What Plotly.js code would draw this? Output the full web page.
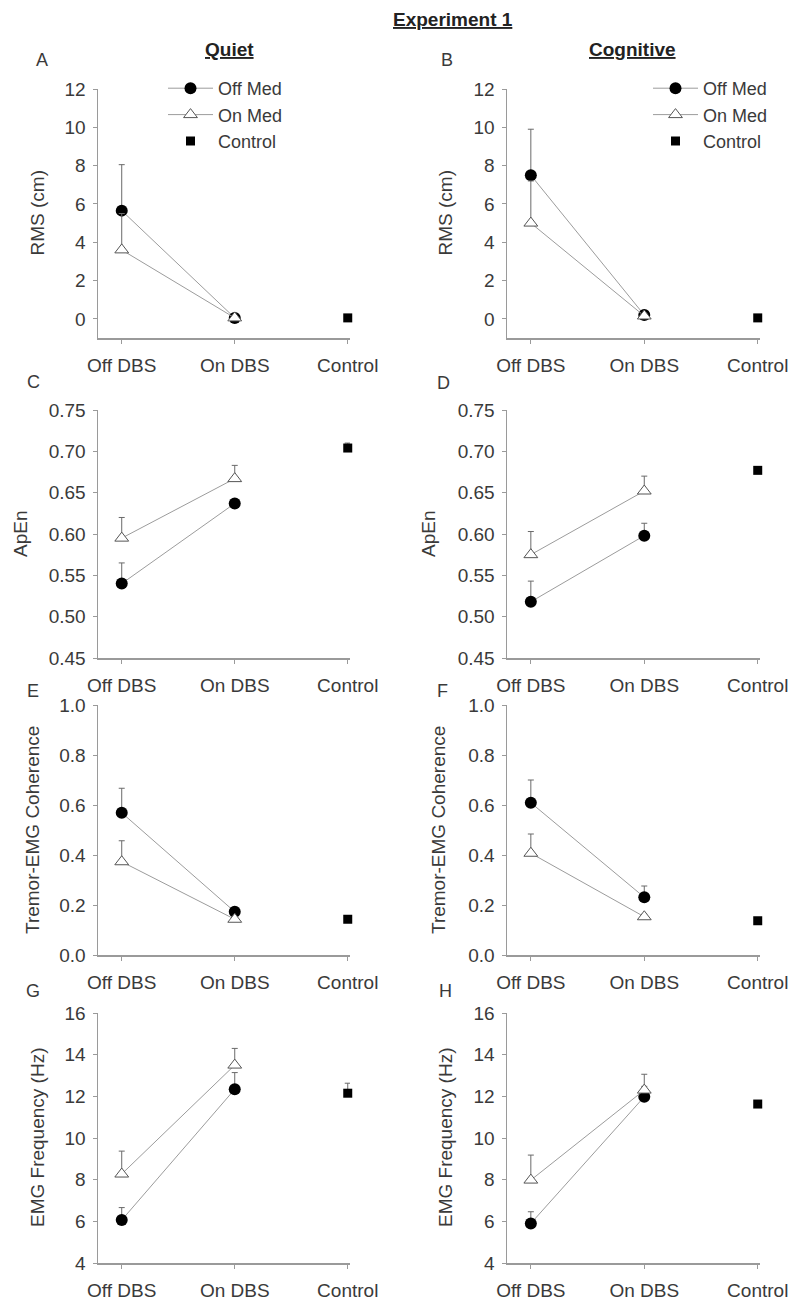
<!DOCTYPE html>
<html>
<head>
<meta charset="utf-8">
<script src="https://cdn.plot.ly/plotly-3.0.1.min.js"></script>
<style>
  html, body { margin: 0; padding: 0; background: #fff; }
  #chart { width: 800px; height: 1313px; }
</style>
</head>
<body>
<div id="chart"></div>
<script>
// categories on the x axis and the three groups
const categories = ["Off DBS", "On DBS", "Control"];
const groupNames = ["Off Med", "On Med", "Control"];

// A - RMS (cm), quiet
const rmsQuietOffMed = [5.65, 0.05];
const rmsQuietOffMedSE = [2.4, 0.1];
const rmsQuietOnMed = [3.6, 0.05];
const rmsQuietOnMedSE = [1.9, 0.1];
const rmsQuietControl = [0.05];
const rmsQuietControlSE = [0.05];

// B - RMS (cm), cognitive
const rmsCogOffMed = [7.5, 0.2];
const rmsCogOffMedSE = [2.4, 0.1];
const rmsCogOnMed = [5.0, 0.15];
const rmsCogOnMedSE = [2.2, 0.1];
const rmsCogControl = [0.05];
const rmsCogControlSE = [0.05];

// C - ApEn, quiet
const apenQuietOffMed = [0.540, 0.637];
const apenQuietOffMedSE = [0.025, 0.004];
const apenQuietOnMed = [0.595, 0.667];
const apenQuietOnMedSE = [0.025, 0.016];
const apenQuietControl = [0.704];
const apenQuietControlSE = [0.006];

// D - ApEn, cognitive
const apenCogOffMed = [0.518, 0.598];
const apenCogOffMedSE = [0.025, 0.015];
const apenCogOnMed = [0.575, 0.652];
const apenCogOnMedSE = [0.028, 0.018];
const apenCogControl = [0.677];
const apenCogControlSE = [0.003];

// E - tremor-EMG coherence, quiet
const cohQuietOffMed = [0.569, 0.173];
const cohQuietOffMedSE = [0.098, 0.01];
const cohQuietOnMed = [0.373, 0.143];
const cohQuietOnMedSE = [0.084, 0.01];
const cohQuietControl = [0.143];
const cohQuietControlSE = [0.01];

// F - tremor-EMG coherence, cognitive
const cohCogOffMed = [0.609, 0.231];
const cohCogOffMedSE = [0.091, 0.045];
const cohCogOnMed = [0.407, 0.153];
const cohCogOnMedSE = [0.077, 0.01];
const cohCogControl = [0.137];
const cohCogControlSE = [0.01];

// G - EMG frequency (Hz), quiet
const emgQuietOffMed = [6.06, 12.34];
const emgQuietOffMedSE = [0.6, 0.8];
const emgQuietOnMed = [8.27, 13.5];
const emgQuietOnMedSE = [1.1, 0.8];
const emgQuietControl = [12.15];
const emgQuietControlSE = [0.48];

// H - EMG frequency (Hz), cognitive
const emgCogOffMed = [5.9, 11.98];
const emgCogOffMedSE = [0.56, 0.5];
const emgCogOnMed = [7.98, 12.3];
const emgCogOnMedSE = [1.2, 0.76];
const emgCogControl = [11.63];
const emgCogControlSE = [0.15];

const W = 800, H = 1313;
const FONT = "Arial, 'Liberation Sans', sans-serif";
const TXT = "#3a3a3a";
const AXIS = "#9a9a9a";

const px = (x) => x / W;
const py = (y) => 1 - y / H;

// plot areas in pixels
const colX = [[98, 350], [507, 760]];
const rowY = [[89, 338], [410, 658], [705, 955], [1013, 1263]];

const rows = [
    { title: "RMS (cm)", range: [-1, 12], dtick: 2, fmt: "d", titleX: [37, 445] },
    { title: "ApEn", range: [0.45, 0.75], dtick: 0.05, fmt: ".2f", titleX: [20, 428] },
    { title: "Tremor-EMG Coherence", range: [0, 1], dtick: 0.2, fmt: ".1f", titleX: [32, 438] },
    { title: "EMG Frequency (Hz)", range: [4, 16], dtick: 2, fmt: "d", titleX: [37, 445] },
];

const panels = [
    [rmsQuietOffMed, rmsQuietOffMedSE, rmsQuietOnMed, rmsQuietOnMedSE, rmsQuietControl, rmsQuietControlSE],
    [rmsCogOffMed, rmsCogOffMedSE, rmsCogOnMed, rmsCogOnMedSE, rmsCogControl, rmsCogControlSE],
    [apenQuietOffMed, apenQuietOffMedSE, apenQuietOnMed, apenQuietOnMedSE, apenQuietControl, apenQuietControlSE],
    [apenCogOffMed, apenCogOffMedSE, apenCogOnMed, apenCogOnMedSE, apenCogControl, apenCogControlSE],
    [cohQuietOffMed, cohQuietOffMedSE, cohQuietOnMed, cohQuietOnMedSE, cohQuietControl, cohQuietControlSE],
    [cohCogOffMed, cohCogOffMedSE, cohCogOnMed, cohCogOnMedSE, cohCogControl, cohCogControlSE],
    [emgQuietOffMed, emgQuietOffMedSE, emgQuietOnMed, emgQuietOnMedSE, emgQuietControl, emgQuietControlSE],
    [emgCogOffMed, emgCogOffMedSE, emgCogOnMed, emgCogOnMedSE, emgCogControl, emgCogControlSE],
];
const letters = ["A", "B", "C", "D", "E", "F", "G", "H"];
const letterPos = [[42, 60], [447, 60], [33, 382], [443, 383], [33, 691], [442, 691], [33, 991], [445, 991]];

function upErr(se) {
    return {
        type: "data", symmetric: false, array: se, arrayminus: se.map(() => 0),
        color: "#6a6a6a", thickness: 1, width: 3,
    };
}

const data = [];
const layout = {
    width: W, height: H,
    margin: { l: 0, r: 0, t: 0, b: 0 },
    paper_bgcolor: "#fff", plot_bgcolor: "rgba(0,0,0,0)",
    font: { family: FONT, color: TXT, size: 19 },
    showlegend: true,
    annotations: [],
};

panels.forEach((p, i) => {
    const r = Math.floor(i / 2), c = i % 2;
    const n = i + 1;
    const xa = "xaxis" + (n === 1 ? "" : n), ya = "yaxis" + (n === 1 ? "" : n);
    const xr = "x" + (n === 1 ? "" : n), yr = "y" + (n === 1 ? "" : n);
    const row = rows[r];
    const leg = r === 0 ? (c === 0 ? "legend" : "legend2") : null;

    const [offMed, offSE, onMed, onSE, ctrl, ctrlSE] = p;
    data.push({
        type: "scatter", mode: "lines+markers", name: groupNames[0],
        x: categories.slice(0, 2), y: offMed, error_y: upErr(offSE),
        xaxis: xr, yaxis: yr, cliponaxis: false,
        line: { color: "#9c9c9c", width: 1 },
        marker: { symbol: "circle", size: 12, color: "#000" },
        showlegend: !!leg, legend: leg || "legend",
    });
    data.push({
        type: "scatter", mode: "lines+markers", name: groupNames[1],
        x: categories.slice(0, 2), y: onMed, error_y: upErr(onSE),
        xaxis: xr, yaxis: yr, cliponaxis: false,
        line: { color: "#9c9c9c", width: 1 },
        marker: { symbol: "triangle-up", size: 12, color: "#fff", line: { color: "#555", width: 1 } },
        showlegend: !!leg, legend: leg || "legend",
    });
    data.push({
        type: "scatter", mode: "markers", name: groupNames[2],
        x: categories.slice(2), y: ctrl, error_y: upErr(ctrlSE),
        xaxis: xr, yaxis: yr, cliponaxis: false,
        marker: { symbol: "square", size: 9, color: "#000" },
        showlegend: !!leg, legend: leg || "legend",
    });

    layout[xa] = {
        domain: [px(colX[c][0]), px(colX[c][1])], anchor: yr,
        type: "category", categoryarray: categories, range: [-0.21, 2.02],
        showline: true, linecolor: AXIS, linewidth: 1.5, mirror: false,
        ticks: "outside", ticklen: 4, tickcolor: AXIS, ticklabelstandoff: 6,
        showgrid: false, zeroline: false, fixedrange: true,
        tickfont: { size: 19, color: TXT },
    };
    layout[ya] = {
        domain: [py(rowY[r][1]), py(rowY[r][0])], anchor: xr,
        range: row.range, dtick: row.dtick, tick0: row.range[0] < 0 ? 0 : row.range[0],
        tickformat: row.fmt,
        showline: true, linecolor: AXIS, linewidth: 1.5,
        ticks: "outside", ticklen: 4, tickcolor: AXIS, ticklabelstandoff: 3,
        showgrid: false, zeroline: false, fixedrange: true,
        tickfont: { size: 19, color: TXT },
    };

    layout.annotations.push({
        xref: "paper", yref: "paper", x: px(row.titleX[c]), y: py((rowY[r][0] + rowY[r][1]) / 2),
        xanchor: "center", yanchor: "middle", textangle: -90, showarrow: false,
        text: row.title, font: { size: 19, color: TXT },
    });
    layout.annotations.push({
        xref: "paper", yref: "paper", x: px(letterPos[i][0]), y: py(letterPos[i][1]),
        xanchor: "center", yanchor: "middle", showarrow: false,
        text: letters[i], font: { size: 18, color: TXT },
    });
});

const legendStyle = {
    xanchor: "left", yanchor: "top", bgcolor: "rgba(0,0,0,0)",
    font: { size: 18, color: TXT }, itemwidth: 45, tracegroupgap: 0,
    traceorder: "normal", itemclick: false, itemdoubleclick: false,
};
layout.legend = Object.assign({ x: px(163), y: py(70) }, legendStyle);
layout.legend2 = Object.assign({ x: px(648), y: py(70) }, legendStyle);

[["<b><u>Experiment 1</u></b>", 453, 20], ["<b><u>Quiet</u></b>", 230, 50], ["<b><u>Cognitive</u></b>", 632, 50]]
    .forEach(([t, x, y]) => layout.annotations.push({
        xref: "paper", yref: "paper", x: px(x), y: py(y), xanchor: "center", yanchor: "middle",
        showarrow: false, text: t, font: { size: 19, color: "#222" },
    }));

Plotly.newPlot("chart", data, layout, { staticPlot: true });
</script>
</body>
</html>
